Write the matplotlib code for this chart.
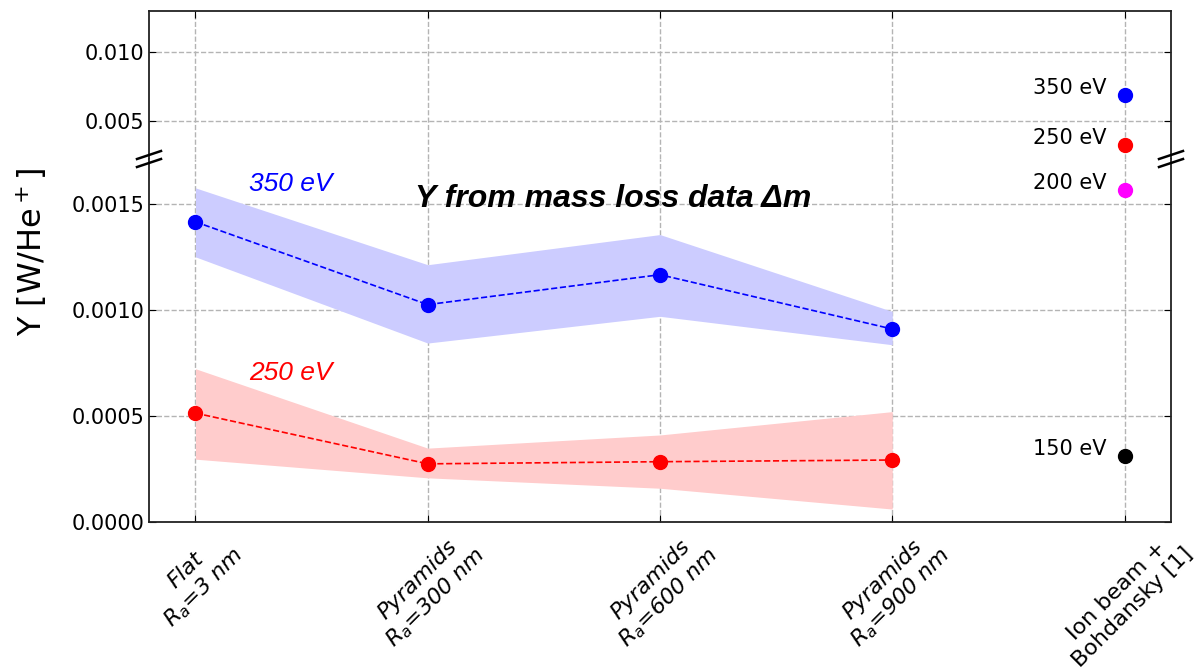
import matplotlib
matplotlib.use("Agg")
import matplotlib.pyplot as plt
from matplotlib.lines import Line2D
import numpy as np

# ---- data ----
categories = ["Flat\n$R_a$=3 nm", "Pyramids\n$R_a$=300 nm", "Pyramids\n$R_a$=600 nm",
              "Pyramids\n$R_a$=900 nm", "Ion beam +\nBohdansky [1]"]
x_meas = [0, 1, 2, 3]
y350 = [0.001414, 0.001024, 0.001165, 0.000909]
y350_hi = [0.001574, 0.001212, 0.001354, 0.000992]
y350_lo = [0.001249, 0.000843, 0.000969, 0.000835]
y250 = [0.000513, 0.000274, 0.000284, 0.000292]
y250_hi = [0.000722, 0.000348, 0.000410, 0.000520]
y250_lo = [0.000296, 0.000208, 0.000159, 0.000061]
ref_x = 4
ref_labels = ["350 eV", "250 eV", "200 eV", "150 eV"]
ref_values = [0.00688, 0.00326, 0.001566, 0.000313]
ref_colors = ["blue", "red", "magenta", "black"]

W, H = 1194, 668
fig = plt.figure(figsize=(W / 100, H / 100), dpi=100)
left, right = 149 / W, 1171 / W
y_top, y_join, y_bot = 1 - 11 / H, 1 - 159 / H, 1 - 522 / H
ax1 = fig.add_axes([left, y_join, right - left, y_top - y_join])
ax2 = fig.add_axes([left, y_bot, right - left, y_join - y_bot])

ax1.set_ylim(0.00225, 0.01297)
ax2.set_ylim(0, 0.00171)
for ax in (ax1, ax2):
    ax.set_xlim(-0.2, 4.2)
    ax.set_xticks(range(len(categories)))
    ax.grid(True, linestyle="--", color="#b4b4b4", linewidth=1)
    ax.set_axisbelow(True)
    ax.tick_params(direction="in", labelsize=15, length=5, right=True, top=True)
    for s in ax.spines.values():
        s.set_linewidth(1.3)
        s.set_color("#222222")

ax1.spines["bottom"].set_visible(False)
ax2.spines["top"].set_visible(False)
ax1.tick_params(bottom=False, labelbottom=False)
ax2.tick_params(top=False)
ax1.set_yticks([0.005, 0.010])
ax1.set_yticklabels(["0.005", "0.010"])
ax2.set_yticks([0, 0.0005, 0.0010, 0.0015])
ax2.set_yticklabels(["0.0000", "0.0005", "0.0010", "0.0015"])

ax2.set_xticklabels(categories, rotation=45, fontsize=16)
for i, lab in enumerate(ax2.get_xticklabels()):
    if i < 4:
        lab.set_fontstyle("italic")

# bands and lines
ax2.fill_between(x_meas, y350_lo, y350_hi, color="#ccccff", linewidth=0)
ax2.fill_between(x_meas, y250_lo, y250_hi, color="#ffcccc", linewidth=0)
ax2.plot(x_meas, y350, "--", color="blue", marker="o", markersize=10, linewidth=1.2)
ax2.plot(x_meas, y250, "--", color="red", marker="o", markersize=10, linewidth=1.2)

# reference points
for lab, v, c in zip(ref_labels, ref_values, ref_colors):
    ax = ax1 if v > 0.002 else ax2
    ax.plot([ref_x], [v], "o", color=c, markersize=10, clip_on=False)
    ax.annotate(lab, (ref_x, v), xytext=(-13, 5), textcoords="offset points",
                ha="right", va="center", fontsize=15)

ax2.text(0.23, 0.00159, "350 eV", color="blue", fontsize=19, style="italic",
         family="Liberation Sans", ha="left", va="center")
ax2.text(0.23, 0.000703, "250 eV", color="red", fontsize=19, style="italic",
         family="Liberation Sans", ha="left", va="center")
ax2.text(1.80, 0.00152, "Y from mass loss data Δm", fontsize=23, style="italic",
         weight="bold", family="Liberation Sans", ha="center", va="center")

fig.text(0.026, 1 - 252 / H, "Y [W/He$^+$]", rotation=90, fontsize=23,
         ha="center", va="center")

# break marks
yj = (H - 159)
for xs in (149, 1171):
    for off in (4, -4):
        xs_ = [(xs - 12) / W, (xs + 12) / W]
        ys_ = [(yj + off - 4) / H, (yj + off + 4) / H]
        fig.add_artist(Line2D(xs_, ys_, color="black", linewidth=1.8,
                              transform=fig.transFigure))

fig.savefig("out.png", dpi=100)
